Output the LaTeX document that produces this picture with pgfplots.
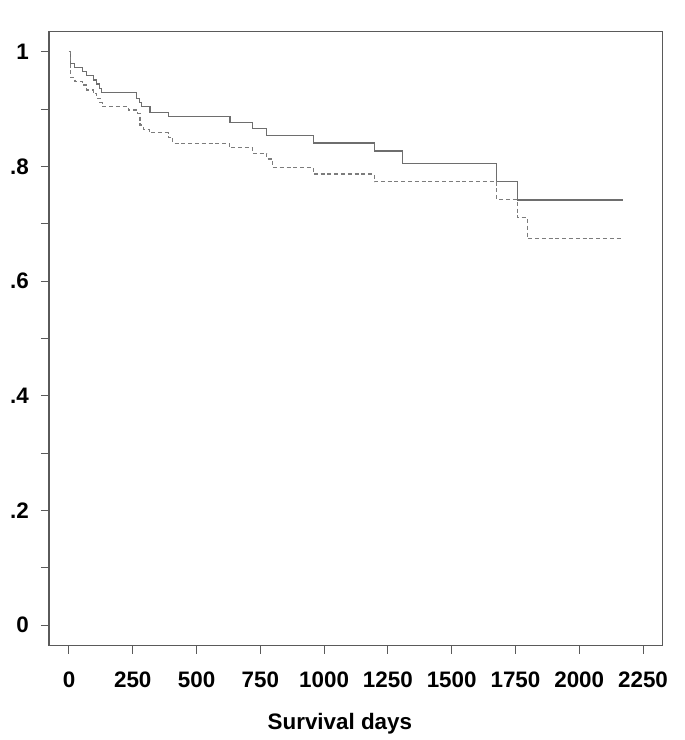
\documentclass[border=0pt]{standalone}
\usepackage{fontspec}
\setmainfont{Liberation Sans}
\usepackage{pgfplots}
\pgfplotsset{compat=1.18}

\definecolor{framegray}{HTML}{5A5A5A}
\definecolor{solidgray}{HTML}{6E6E6E}
\definecolor{dashgray}{HTML}{7C7C7C}

\begin{document}
\begin{tikzpicture}
\begin{axis}[
    name=ax,
    scale only axis,
    width=307pt, height=307pt,
    xmin=-78.4, xmax=2327.6,
    ymin=-0.0358, ymax=1.0349,
    xtick={0,250,...,2250},
    xticklabels={0,250,500,750,1000,1250,1500,1750,2000,2250},
    ytick={0,0.1,...,1},
    yticklabels={0,,.2,,.4,,.6,,.8,,1},
    xtick pos=bottom, ytick pos=left,
    tick align=outside,
    major tick length=4pt,
    tick style={framegray, line width=0.5pt},
    axis line style={framegray, line width=0.6pt},
    ticklabel style={font=\fontsize{11.2}{13}\selectfont\bfseries},
    xticklabel style={yshift=-5.5pt},
    yticklabel style={xshift=-2.5pt},
    /pgf/number format/assume math mode=true,
    xlabel={Survival days},
    xlabel style={font=\fontsize{11.2}{13}\selectfont\bfseries, yshift=-6pt, xshift=-8pt},
    clip=false,
]

% solid group
\addplot[const plot, solidgray, line width=0.6pt] coordinates {
    (0,1.0) (6.5,0.9797) (20.9,0.9727) (53.6,0.9652) (69.2,0.9582)
    (95.3,0.9506) (108.4,0.9437) (118.8,0.9362) (128,0.9292)
    (265.2,0.9187) (275.6,0.9111) (284.8,0.9041) (317.4,0.8943)
    (389.2,0.8866) (630.9,0.8761) (718.3,0.8657) (774.7,0.8542)
    (957.3,0.8408) (1196.3,0.8268) (1307.6,0.8053) (1675.9,0.7732)
    (1756.7,0.7413) (2169.7,0.7413)
};

% dashed group
\addplot[const plot, dashgray, line width=0.6pt, dash pattern=on 2pt off 1.4pt] coordinates {
    (0,1.0) (6.5,0.9547) (23.5,0.9477) (53.6,0.9419) (69.2,0.9332)
    (95.3,0.9274) (108.4,0.9187) (121.5,0.9111) (132,0.9041)
    (232.4,0.8983) (269.2,0.8925) (278.2,0.8721) (291.1,0.8646)
    (314.7,0.8587) (389.2,0.85) (406.3,0.8402) (628.1,0.8326)
    (718.3,0.8228) (774.7,0.8128) (796.6,0.7984) (957.3,0.7867)
    (1196.3,0.7732) (1675.9,0.7425) (1756.7,0.7104) (1795.9,0.6745)
    (2169.7,0.6745)
};

\end{axis}
\pgfresetboundingbox
\path[use as bounding box] ([xshift=-24.5pt,yshift=-47.25pt]ax.south west)
    rectangle ([xshift=11pt,yshift=15.85pt]ax.north east);
\end{tikzpicture}
\end{document}
